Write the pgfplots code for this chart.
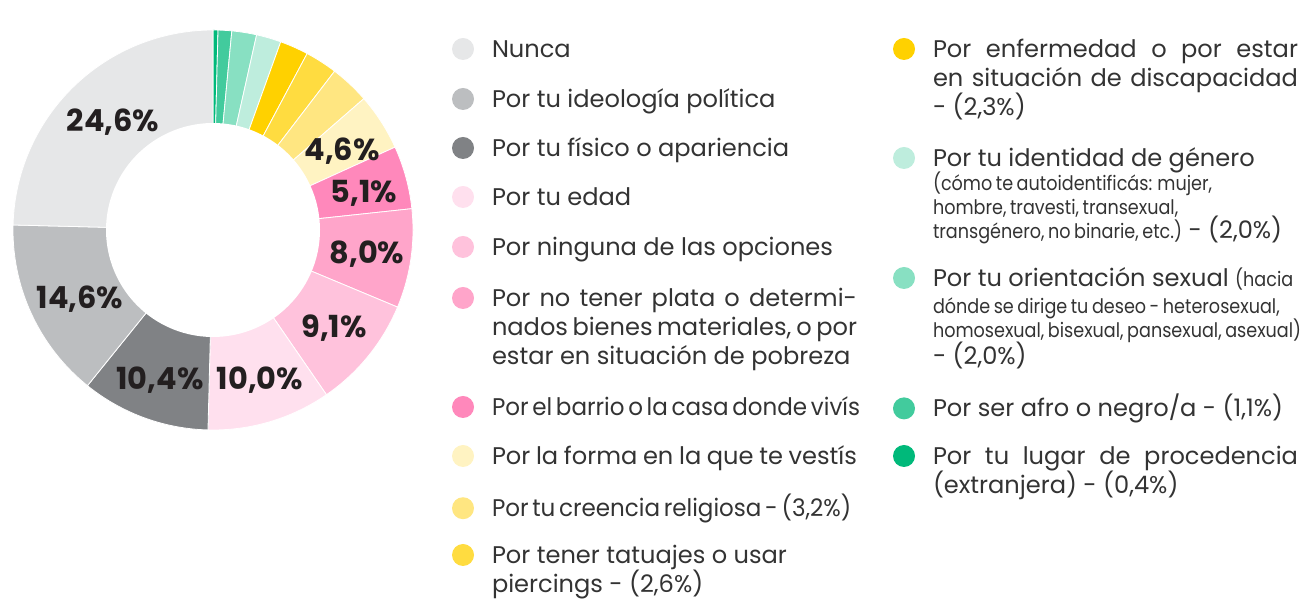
\documentclass[border=0pt]{standalone}
\usepackage{fontspec}
\setmainfont{Poppins}
\usepackage{graphicx}
\usepackage{pgfplots}
\pgfplotsset{compat=1.18}

% colours
\definecolor{cNunca}{HTML}{E6E7E8}
\definecolor{cIdeo}{HTML}{BCBEC0}
\definecolor{cFisico}{HTML}{808285}
\definecolor{cEdad}{HTML}{FFE0EE}
\definecolor{cNinguna}{HTML}{FFC2DC}
\definecolor{cPlata}{HTML}{FFA5CA}
\definecolor{cBarrio}{HTML}{FF88BB}
\definecolor{cVestis}{HTML}{FFF3C2}
\definecolor{cReligion}{HTML}{FFE681}
\definecolor{cTatuajes}{HTML}{FFDC40}
\definecolor{cEnfermedad}{HTML}{FFD100}
\definecolor{cIdentidad}{HTML}{BEEDDD}
\definecolor{cOrientacion}{HTML}{88E0C2}
\definecolor{cAfro}{HTML}{42CB9D}
\definecolor{cLugar}{HTML}{00B97A}
\definecolor{txt}{HTML}{333333}
\definecolor{lbl}{HTML}{231F20}

\newcommand{\legfont}{\fontsize{12.05pt}{14.5pt}\selectfont}
% small, condensed text of the two long entries
\newcommand{\sm}[1]{\scalebox{0.88}[1]{\fontsize{10pt}{12pt}\selectfont\spaceskip=0.2em\relax #1}}
\newcommand{\tight}[1]{\scalebox{0.955}[1]{\spaceskip=0.16em\relax #1}}
\newcommand{\entry}[1]{\parbox[t]{182.5pt}{\legfont
  \hyphenpenalty=10000 \exhyphenpenalty=10000 \lineskiplimit=-10pt
  \spaceskip=1\fontdimen2\font plus 1\fontdimen3\font minus 0.6\fontdimen2\font
  \rule{0pt}{10.15pt}#1\strut}}

% one ring slice: colour, cumulative start %, cumulative end %
% (radius 200 = outer edge, in px of the reference; 1 unit = 0.5pt)
\newcommand{\slice}[3]{%
  \addplot[fill=#1, draw=white, line width=0.4pt, domain=#2:#3, samples=60]
    ({200*cos(90-3.6*x)}, {200*sin(90-3.6*x)}) -- (axis cs:0,0) -- cycle;}

\pgfplotsset{
  legaxis/.style={
    anchor=north west, scale only axis, width=1pt, height=1pt,
    hide axis, xmin=0, xmax=1, ymin=0, ymax=1,
    legend style={at={(0,1)}, anchor=north west, draw=none, fill=none,
      inner sep=0pt, outer sep=0pt, column sep=9pt,
      cells={anchor=base west}, nodes={inner sep=0pt, text=txt}},
    legend image code/.code={\fill[##1] (5.5pt,4.2pt) circle[radius=5.5pt];},
  },
}
% one legend item: left x, top y, colour, text
\newcommand{\legitem}[4]{%
  \begin{axis}[legaxis, at={(#1,#2)}]
  \addlegendimage{fill=#3, draw=none}
  \addlegendentry{\entry{#4}}
  \end{axis}}

\begin{document}
\begin{tikzpicture}
\useasboundingbox (0,0) rectangle (650pt,302pt);

% ---- donut ----
\begin{axis}[
  at={(106.5pt,187pt)}, anchor=center,
  scale only axis, width=201pt, height=201pt,
  xmin=-201, xmax=201, ymin=-201, ymax=201,
  hide axis, clip=false,
]
\slice{cLugar}{0}{0.4}
\slice{cAfro}{0.4}{1.5}
\slice{cOrientacion}{1.5}{3.5}
\slice{cIdentidad}{3.5}{5.5}
\slice{cEnfermedad}{5.5}{7.8}
\slice{cTatuajes}{7.8}{10.4}
\slice{cReligion}{10.4}{13.6}
\slice{cVestis}{13.6}{18.2}
\slice{cBarrio}{18.2}{23.3}
\slice{cPlata}{23.3}{31.3}
\slice{cNinguna}{31.3}{40.4}
\slice{cEdad}{40.4}{50.4}
\slice{cFisico}{50.4}{60.8}
\slice{cIdeo}{60.8}{75.4}
\slice{cNunca}{75.4}{100}
\addplot[fill=white, draw=none, domain=0:360, samples=120]
  ({107*cos(x)}, {107*sin(x)}) -- cycle;

\begin{scope}[every node/.style={font=\fontsize{15.2pt}{17pt}\selectfont\bfseries,
  text=lbl, inner sep=0pt, text height=10.6pt, text depth=0pt, anchor=center}]
\node at (axis cs:-100,109) {24,6\%};
\node at (axis cs:-133,-68) {14,6\%};
\node at (axis cs:-53,-149) {10,4\%};
\node at (axis cs:47,-149) {10,0\%};
\node at (axis cs:121,-97) {9,1\%};
\node at (axis cs:154,-23) {8,0\%};
\node at (axis cs:151,38) {5,1\%};
\node at (axis cs:129,80) {4,6\%};
\end{scope}
\end{axis}

% ---- legend, left column ----
\legitem{226pt}{283.45pt}{cNunca}{Nunca}
\legitem{226pt}{258.45pt}{cIdeo}{Por tu ideología política}
\legitem{226pt}{233.95pt}{cFisico}{Por tu físico o apariencia}
\legitem{226pt}{209.45pt}{cEdad}{Por tu edad}
\legitem{226pt}{184.45pt}{cNinguna}{Por ninguna de las opciones}
\legitem{226pt}{158.95pt}{cPlata}{Por no tener plata o determi-\linebreak nados bienes materiales, o por\linebreak estar en situación de pobreza}
\legitem{226pt}{104.45pt}{cBarrio}{\tight{Por el barrio o la casa donde vivís}}
\legitem{226pt}{79.95pt}{cVestis}{Por la forma en la que te vestís}
\legitem{226pt}{54.95pt}{cReligion}{\tight{Por tu creencia religiosa - (3,2\%)}}
\legitem{226pt}{30.45pt}{cTatuajes}{Por tener tatuajes o usar\\ piercings - (2,6\%)}

% ---- legend, right column ----
\legitem{446.5pt}{283.45pt}{cEnfermedad}{Por enfermedad o por estar\linebreak en situación de discapacidad\linebreak - (2,3\%)}
\legitem{446.5pt}{228.95pt}{cIdentidad}{Por tu identidad de género\\
  \sm{(cómo te autoidentificás: mujer,}\\
  \sm{hombre, travesti, transexual,}\\
  \mbox{\sm{transgénero, no binarie, etc.)} - (2,0\%)}\baselineskip=12pt}
\legitem{446.5pt}{168.95pt}{cOrientacion}{\mbox{Por tu orientación sexual \sm{(hacia}}\\[1.5pt]
  \sm{dónde se dirige tu deseo - heterosexual,}\\
  \sm{homosexual, bisexual, pansexual, asexual)}\\[1.5pt]
  - (2,0\%)\baselineskip=12pt}
\legitem{446.5pt}{104.95pt}{cAfro}{Por ser afro o negro/a - (1,1\%)}
\legitem{446.5pt}{79.95pt}{cLugar}{Por tu lugar de procedencia\linebreak (extranjera) - (0,4\%)}
\end{tikzpicture}
\end{document}
